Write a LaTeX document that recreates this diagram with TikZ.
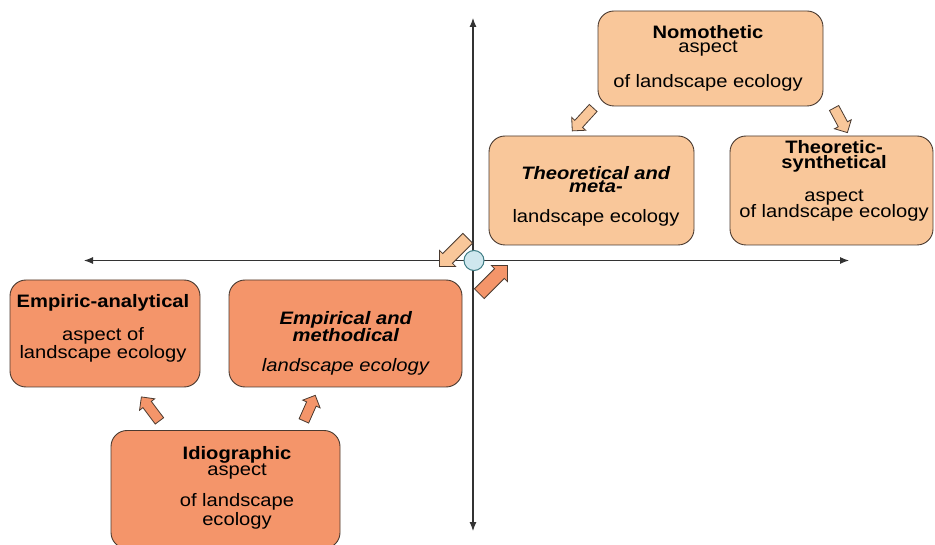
\documentclass[tikz,border=0pt]{standalone}
\usepackage{fontspec}
\newfontfamily\boxfont[FakeStretch=1.12]{Liberation Sans}
\usetikzlibrary{shapes.arrows,arrows.meta}
\definecolor{lightor}{HTML}{F9C79A}
\definecolor{darkor}{HTML}{F4956A}
\definecolor{edgecol}{HTML}{4A3A30}
\definecolor{circfill}{HTML}{CFE7EE}
\definecolor{circedge}{HTML}{3D7C84}
\tikzset{
  box/.style={rectangle, rounded corners=16pt, draw=edgecol, line width=0.9pt, inner sep=0pt},
  lbox/.style={box, fill=lightor},
  dbox/.style={box, fill=darkor},
  txt/.style={align=center, anchor=base, inner sep=0pt, font=\boxfont\fontsize{18}{15}\selectfont},
  axis/.style={line width=1.1pt, draw=black!80, {Latex[length=9pt,width=7pt]}-{Latex[length=9pt,width=7pt]}},
  barrow/.style={single arrow, draw=edgecol, line width=0.8pt, inner sep=4.5pt, minimum width=19pt, minimum height=30pt, single arrow head extend=4pt},
  larrow/.style={barrow, fill=lightor},
  darrow/.style={barrow, fill=darkor},
}
\begin{document}
\begin{tikzpicture}[x=1pt,y=-1pt]
\useasboundingbox (0,0) rectangle (935,545);
% axes
\coordinate (top) at (473,18);
\coordinate (bot) at (473,531);
\coordinate (left) at (84,260.5);
\coordinate (right) at (849,260.5);
\draw[axis] (top) -- (bot);
\draw[axis] (left) -- (right);
\node[circle, minimum size=20pt, inner sep=0pt, fill=circfill, draw=circedge, line width=1pt] (origin) at (474,260.5) {};
% boxes
\node[lbox, minimum width=225pt, minimum height=95pt] (nomo) at (710.5,58.5) {};
\node[lbox, minimum width=205pt, minimum height=109pt] (theo) at (591.5,190.5) {};
\node[lbox, minimum width=203pt, minimum height=109pt] (synth) at (831.5,190.5) {};
\node[dbox, minimum width=190pt, minimum height=107pt] (empa) at (105,333.5) {};
\node[dbox, minimum width=233pt, minimum height=107pt] (empm) at (345.5,333.5) {};
\node[dbox, minimum width=229pt, minimum height=118pt] (idio) at (225.5,489.5) {};
% texts (base anchor = baseline of last line)
\node[txt] (nomo-t) at (708,88) {\textbf{Nomothetic}\\[-1pt]aspect\\[18pt]of landscape ecology};
\node[txt] (theo-t) at (596,223) {\textbf{\textit{Theoretical and}}\\[-2pt]\textbf{\textit{meta-}}\\[15pt]landscape ecology};
\node[txt] (synth-t) at (834,218) {\textbf{Theoretic-}\\\textbf{synthetical}\\[16pt]aspect\\[-1pt]of landscape ecology};
\node[txt] (empa-t) at (103,359) {\textbf{Empiric-analytical}\\[15pt]aspect of\\[1pt]landscape ecology};
\node[txt] (empm-t) at (346,372) {\textbf{\textit{Empirical and}}\\\textbf{\textit{methodical}}\\[15pt]\textit{landscape ecology}};
\node[txt] (idio-t) at (237,525) {\textbf{Idiographic}\\[-1pt]aspect\\[13pt]of landscape\\[1pt]ecology};
% block arrows
\node[larrow, rotate=227.6, minimum height=31pt] (a1) at (584.5,117.5) {};
\node[larrow, rotate=-61.6, minimum height=28pt] (a2) at (839.5,118) {};
\node[larrow, rotate=225, minimum height=40pt, inner sep=5.5pt, minimum width=23pt] (a3) at (456,250) {};
\node[darrow, rotate=45, minimum height=40pt, inner sep=5.5pt, minimum width=23pt] (a4) at (491,282) {};
\node[darrow, rotate=127, minimum height=30pt] (a5) at (152,411) {};
\node[darrow, rotate=66, minimum height=28pt] (a6) at (308.5,410.5) {};
\end{tikzpicture}
\end{document}
